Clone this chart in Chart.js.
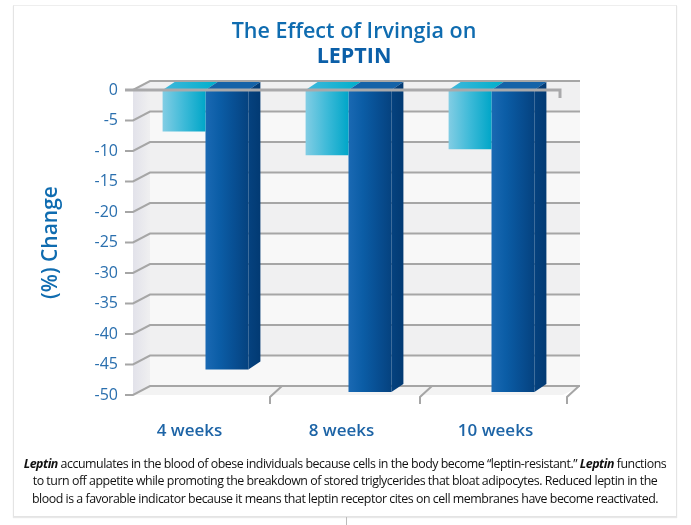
<!DOCTYPE html>
<html lang="en">
<head>
<meta charset="UTF-8">
<title>The Effect of Irvingia on Leptin</title>
<script src="https://cdn.jsdelivr.net/npm/chart.js"></script>
<style>
    body { margin: 0; background: #fff; font-family: "Open Sans", sans-serif; }
    #wrap { position: relative; width: 691px; height: 525px; overflow: hidden; }
    #card { position: absolute; left: 13px; top: 5px; width: 664px; height: 512px; border: 1px solid #e4e4e4; border-top-color: #eee; box-shadow: 0 1px 1px #e8e8e8; box-sizing: border-box; }
    #stem { position: absolute; left: 346px; top: 517px; width: 1px; height: 8px; background: #bbb; }
    canvas { position: absolute; left: 0; top: 0; }
    #title { position: absolute; left: 154px; top: 17px; width: 400px; text-align: center; color: #0f6cb0; font-size: 21.5px; line-height: 25px; font-weight: 600; }
    #title b { font-weight: 700; color: #0b5fa8; }
    #note { position: absolute; left: 14px; width: 662px; top: 454.5px; text-align: center; color: #111; font-size: 12.4px; line-height: 17.5px; letter-spacing: -0.47px; white-space: nowrap; }
</style>
</head>
<body>
<div id="wrap">
    <div id="card"></div>
    <div id="stem"></div>
    <canvas id="leptinChart" width="691" height="525"></canvas>
    <div id="title">The Effect of Irvingia on<br><b>LEPTIN</b></div>
    <div id="note">
        <b><i>Leptin</i></b> accumulates in the blood of obese individuals because cells in the body become “leptin-resistant.” <b><i>Leptin</i></b> functions<br>
        to turn off appetite while promoting the breakdown of stored triglycerides that bloat adipocytes. Reduced leptin in the<br>
        blood is a favorable indicator because it means that leptin receptor cites on cell membranes have become reactivated.
    </div>
</div>
<script>
const categories = ['4 weeks', '8 weeks', '10 weeks'];
const lightValues = [-6.8, -10.7, -9.7];
const darkValues = [-45.8, -49.5, -49.5];
const yTicks = [0, -5, -10, -15, -20, -25, -30, -35, -40, -45, -50];

// how far the back wall sits behind the front plane, in px
const depthX = 19, depthY = 9;
const barDepthX = 12, barDepthY = 8;
const barShare = 0.3;
// the category labels and floor ticks are not evenly placed in the original
const labelNudge = [-16, -7, 4];
const floorNudge = [-7, 0, 4];

function barGradient(ctx, x0, x1, stops) {
    const g = ctx.createLinearGradient(x0, 0, x1, 0);
    stops.forEach((s, i) => g.addColorStop(i / (stops.length - 1), s));
    return g;
}

function fillPoly(ctx, pts, fill) {
    ctx.fillStyle = fill;
    ctx.beginPath();
    pts.forEach((p, i) => i ? ctx.lineTo(p[0], p[1]) : ctx.moveTo(p[0], p[1]));
    ctx.closePath();
    ctx.fill();
}

function fillFor(c, stops, left) {
    const x = c.chart.scales.x;
    if (!x || !c.chart.chartArea) return stops[0];
    const center = x.getPixelForValue(c.dataIndex);
    const w = (x.width / categories.length) * barShare;
    if (!Number.isFinite(center) || !Number.isFinite(w)) return stops[0];
    return left ? barGradient(c.chart.ctx, center - w, center, stops)
                : barGradient(c.chart.ctx, center, center + w, stops);
}

const roomPlugin = {
    id: 'room',
    beforeDraw(chart) {
        const x = chart.scales.x;
        if (chart.$nudged) return;
        chart.$nudged = true;
        x.getLabelItems(chart.chartArea).forEach((it, i) => { it.options.translation[0] += labelNudge[i]; });
    },
    beforeDatasetsDraw(chart) {
        const { ctx, chartArea: a, scales: { x, y } } = chart;
        const front = a.left - 1, backL = front + depthX - 2, backR = 580;
        const top = y.getPixelForValue(0), bottom = y.getPixelForValue(-50);

        ctx.save();
        // back wall bands
        yTicks.slice(0, -1).forEach((v, i) => {
            const y0 = y.getPixelForValue(v) - depthY, y1 = y.getPixelForValue(yTicks[i + 1]) - depthY;
            ctx.fillStyle = i % 2 ? '#f8f8f8' : '#f0f0f1';
            ctx.fillRect(backL, y0, backR - backL, y1 - y0);
        });
        // left wall and floor
        fillPoly(ctx, [[front, top], [backL, top - depthY], [backL, bottom - depthY], [front, bottom]],
            barGradient(ctx, front, backL + 14, ['#e2e2ea', '#eeeef0', '#f4f4f4']));
        fillPoly(ctx, [[front, bottom], [backL, bottom - depthY], [backR, bottom - depthY], [a.right, bottom]], '#f3f3f3');

        // grid lines with their bent tick on the left
        ctx.strokeStyle = '#a6a6a6';
        ctx.lineWidth = 2;
        yTicks.forEach(v => {
            const py = y.getPixelForValue(v);
            ctx.beginPath();
            ctx.moveTo(front - 8, py);
            ctx.lineTo(front, py);
            ctx.lineTo(backL, py - depthY);
            ctx.lineTo(backR, py - depthY);
            ctx.stroke();
        });
        // bent ticks on the floor between the categories
        categories.forEach((c, i) => {
            const px = x.getPixelForValue(i) + (x.getPixelForValue(1) - x.getPixelForValue(0)) / 2 + floorNudge[i];
            ctx.beginPath();
            ctx.moveTo(px, bottom + 9);
            ctx.lineTo(px, bottom + 2);
            ctx.lineTo(px + 12, bottom - depthY);
            ctx.stroke();
        });

        // top faces and sides of the bars
        const light = chart.getDatasetMeta(0).data, dark = chart.getDatasetMeta(1).data;
        light.forEach(el => {
            const x0 = el.x - el.width / 2, x1 = el.x + el.width / 2;
            fillPoly(ctx, [[x0, top], [x0 + barDepthX, top - barDepthY], [x1 + barDepthX, top - barDepthY], [x1, top]],
                barGradient(ctx, x0, x1 + barDepthX, ['#3fb8dc', '#00afcb']));
        });
        dark.forEach(el => {
            const x0 = el.x - el.width / 2, x1 = el.x + el.width / 2;
            fillPoly(ctx, [[x0, top], [x0 + barDepthX, top - barDepthY], [x1 + barDepthX, top - barDepthY], [x1, top]], '#1563a8');
            fillPoly(ctx, [[x1, top], [x1 + barDepthX, top - barDepthY], [x1 + barDepthX, el.y - barDepthY], [x1, el.y]],
                barGradient(ctx, x1, x1 + barDepthX, ['#05427f', '#023a73']));
        });
        ctx.restore();
    },
    afterDatasetsDraw(chart) {
        const { ctx, chartArea: a, scales: { y } } = chart;
        const py = y.getPixelForValue(0);
        ctx.save();
        ctx.strokeStyle = '#a9a9ab';
        ctx.lineWidth = 3;
        ctx.beginPath();
        ctx.moveTo(a.left - 9, py);
        ctx.lineTo(a.right - 3, py);
        ctx.lineTo(a.right - 3, py + 8);
        ctx.stroke();
        ctx.restore();
    }
};

new Chart(document.getElementById('leptinChart'), {
    type: 'bar',
    data: {
        labels: categories,
        datasets: [
            {
                data: lightValues,
                backgroundColor: c => fillFor(c, ['#82cde4', '#3dbad8', '#00a6c8'], true)
            },
            {
                data: darkValues,
                backgroundColor: c => fillFor(c, ['#1a69b3', '#0b5da6', '#084f93', '#05427f'], false)
            }
        ]
    },
    options: {
        responsive: false,
        animation: false,
        categoryPercentage: barShare * 2,
        barPercentage: 1,
        layout: { padding: { left: 38, right: 128, top: 90, bottom: 80 } },
        plugins: { legend: { display: false }, tooltip: { enabled: false } },
        scales: {
            x: {
                grid: { display: false, drawTicks: false },
                border: { display: false },
                afterFit: s => { s.height = 50; },
                ticks: { padding: 26, color: '#1d64a6', font: { family: 'Open Sans', size: 17, weight: '600' }, maxRotation: 0 }
            },
            y: {
                min: -50,
                max: 0,
                afterBuildTicks: s => { s.ticks = yTicks.map(v => ({ value: v })); },
                afterFit: s => { s.width = 96; },
                grid: { display: false, drawTicks: false },
                border: { display: false },
                title: { display: true, text: '(%) Change', color: '#0f6cb0', padding: 0, font: { family: 'Open Sans', size: 21, weight: '600' } },
                ticks: { padding: 16, color: '#2a6fae', font: { family: 'Open Sans', size: 16 } }
            }
        }
    },
    plugins: [roomPlugin]
});
</script>
</body>
</html>
